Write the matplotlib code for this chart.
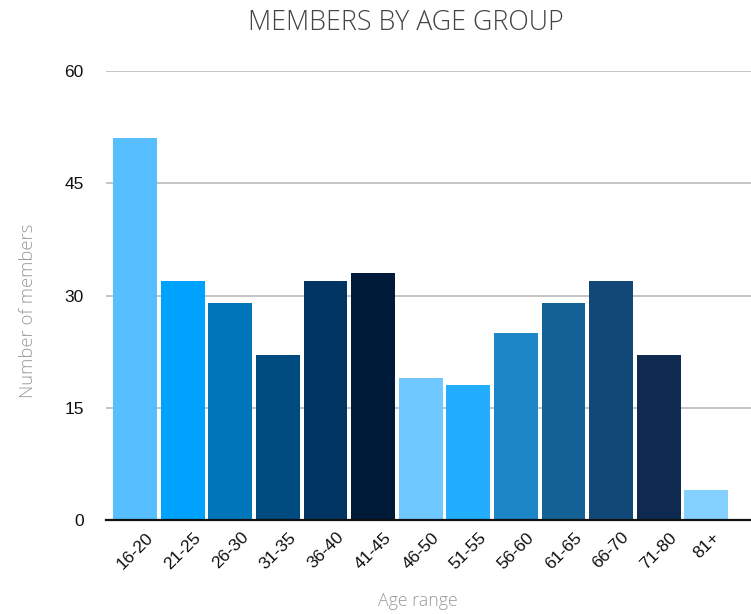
import matplotlib
matplotlib.use("Agg")
import matplotlib.pyplot as plt

categories = ["16-20", "21-25", "26-30", "31-35", "36-40", "41-45", "46-50",
              "51-55", "56-60", "61-65", "66-70", "71-80", "81+"]
members = [51, 32, 29, 22, 32, 33, 19, 18, 25, 29, 32, 22, 4]
colors = ["#57BFFF", "#00A2FF", "#0075B9", "#004B80", "#003462", "#001A3A",
          "#6FC8FF", "#22ADFF", "#1C86C6", "#146196", "#124878", "#0E2A51",
          "#84D0FF"]
yticks = [0, 15, 30, 45, 60]

W, H = 751, 614
fig = plt.figure(figsize=(W / 100, H / 100), dpi=100)
left, right, bottom, top = 106, 751, 520, 71
ax = fig.add_axes([left / W, 1 - bottom / H, (right - left) / W, (bottom - top) / H])

x = list(range(len(categories)))
ax.bar(x, members, width=0.92, color=colors, zorder=3)

ax.set_xlim(-0.61, 12.94)
ax.set_ylim(0, 60)
ax.set_yticks(yticks)
ax.set_yticklabels([str(v) for v in yticks], fontsize=12.5, family="Liberation Sans", color="#111111")
ax.set_xticks(x)
ax.set_xticklabels(categories, rotation=45, ha="center", va="top", fontsize=12.5,
                   family="Liberation Sans", color="#111111")
ax.tick_params(axis="y", length=0, pad=16)
ax.tick_params(axis="x", length=0, pad=7)

ax.grid(axis="y", color="#C0C0C0", linewidth=1.3, zorder=0)
for s in ["left", "right", "top"]:
    ax.spines[s].set_visible(False)
ax.spines["bottom"].set_color("#111111")
ax.spines["bottom"].set_linewidth(1.6)
ax.spines["bottom"].set_zorder(4)

fig.text(406 / W, 1 - 23 / H, "MEMBERS BY AGE GROUP", ha="center", va="center",
         fontsize=19.3, family="Open Sans", fontweight="light", color="#444444")
fig.text(28 / W, 1 - 311 / H, "Number of members", ha="center", va="center",
         rotation=90, fontsize=13.2, family="Open Sans", fontweight="light", color="#999999")
fig.text(418 / W, 1 - 601 / H, "Age range", ha="center", va="center",
         fontsize=12.8, family="Open Sans", fontweight="light", color="#999999")

fig.savefig("out.png", dpi=100)
